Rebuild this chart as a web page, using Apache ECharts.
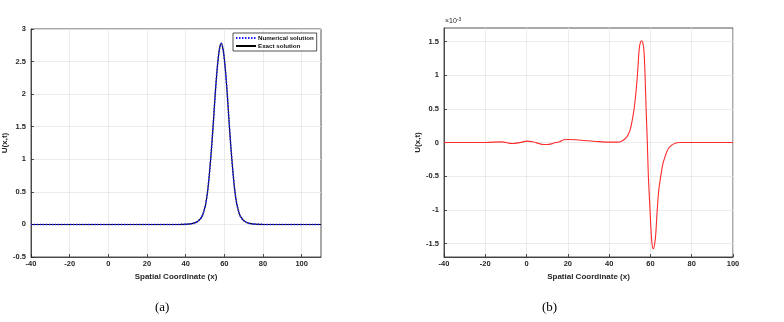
<!DOCTYPE html>
<html>
<head>
<meta charset="UTF-8">
<title>Soliton</title>
<script src="https://cdn.jsdelivr.net/npm/echarts@6/dist/echarts.min.js"></script>
<style>
  html, body { margin: 0; padding: 0; background: #fff; }
  #main { width: 784px; height: 322px; }
</style>
</head>
<body>
<div id="main"></div>
<script type="text/javascript">
// (a) solution profile
var xA = [-40, 0, 36.4, 41.4, 44.4, 46.4, 48.4, 49.4, 50.4, 51.4, 52.4, 53.4, 54.4, 55.4, 56.4, 57.4, 58.4, 59.4, 60.4, 61.4, 62.4, 63.4, 64.4, 65.4, 66.4, 67.4, 68.4, 70.4, 72.4, 75.4, 80.4, 110];
var numA = [0, 0, 0, 0.005, 0.02, 0.05, 0.12, 0.2, 0.32, 0.52, 0.82, 1.18, 1.6, 2.05, 2.42, 2.68, 2.78, 2.68, 2.42, 2.05, 1.6, 1.18, 0.82, 0.52, 0.32, 0.2, 0.12, 0.05, 0.02, 0.005, 0, 0];
var exA = numA.slice();

// (b) error, in units of 1e-3
var xB = [-40, -20, -12, -7, -3, 0, 3, 6, 8, 10, 12, 14, 16, 18, 20, 24, 28, 34, 40, 44, 46, 48.5, 50.1, 51, 52.1, 53, 53.7, 54.6, 55.2, 55.8, 56.4, 56.9, 57.4, 57.9, 58.5, 59, 59.8, 60.6, 61.4, 62.1, 62.6, 63.3, 64, 65, 66, 67.1, 68.5, 70.3, 72, 74, 100];
var errB = [0, 0, 0.01, -0.015, 0, 0.02, 0.01, -0.015, -0.03, -0.03, -0.02, 0, 0.01, 0.04, 0.045, 0.04, 0.03, 0.015, 0.005, 0.005, 0.02, 0.08, 0.18, 0.3, 0.5, 0.75, 1.0, 1.4, 1.49, 1.51, 1.47, 1.35, 1.0, 0.5, 0, -0.5, -1.0, -1.45, -1.58, -1.5, -1.35, -1.0, -0.72, -0.5, -0.32, -0.21, -0.1, -0.04, -0.01, 0, 0];

var xTicksA = [-40, -20, 0, 20, 40, 60, 80, 100];
var yTicksB = [-1.5, -1, -0.5, 0, 0.5, 1, 1.5];

function pairs(xs, ys) {
  var out = [];
  for (var i = 0; i < xs.length; i++) out.push([xs[i], ys[i]]);
  return out;
}

var ink = '#262626';
var gridCol = '#e6e6e6';
var fam = 'Liberation Sans, Arial, sans-serif';
var tickFont = { color: ink, fontSize: 7.5, fontWeight: 'bold', fontFamily: fam };
var nameFont = { color: ink, fontSize: 8, fontWeight: 'bold', fontFamily: fam };

function xAx(gi, min, max, interval, custom) {
  var ax = {
    type: 'value', gridIndex: gi, min: min, max: max, interval: interval,
    name: 'Spatial Coordinate (x)', nameLocation: 'middle', nameGap: 14, nameTextStyle: nameFont,
    axisLine: { show: true, onZero: false, lineStyle: { color: ink, width: 0.8 } },
    axisTick: { show: true, inside: true, length: 3, lineStyle: { color: ink, width: 0.8 } },
    axisLabel: Object.assign({ margin: 3 }, tickFont),
    splitLine: { show: true, lineStyle: { color: gridCol, width: 0.8 } }
  };
  if (custom) {
    ax.axisLabel.customValues = custom;
    ax.axisTick.customValues = custom;
  }
  return ax;
}

function yAx(gi, min, max, interval, custom) {
  var ax = {
    type: 'value', gridIndex: gi, min: min, max: max, interval: interval,
    name: 'U(x,t)', nameLocation: 'middle', nameGap: 18, nameTextStyle: nameFont,
    axisLine: { show: true, onZero: false, lineStyle: { color: ink, width: 0.8 } },
    axisTick: { show: true, inside: true, length: 3, lineStyle: { color: ink, width: 0.8 } },
    axisLabel: Object.assign({ margin: 5 }, tickFont),
    splitLine: { show: true, lineStyle: { color: gridCol, width: 0.8 } }
  };
  if (custom) {
    ax.axisLabel.customValues = custom;
    ax.axisTick.customValues = custom;
  }
  return ax;
}

var myChart = echarts.init(document.getElementById('main'));
myChart.setOption({
  animation: false,
  backgroundColor: '#fff',
  grid: [
    { left: 31, right: 463, top: 29, bottom: 65, show: true, borderColor: ink, borderWidth: 0.8, backgroundColor: '#fff' },
    { left: 444, right: 51, top: 28, bottom: 65, show: true, borderColor: ink, borderWidth: 0.8, backgroundColor: '#fff' }
  ],
  legend: {
    left: 233, top: 33, orient: 'vertical',
    data: ['Numerical solution', 'Exact solution'],
    itemWidth: 20, itemHeight: 6, itemGap: 2, padding: [2, 3, 2, 2],
    itemStyle: { opacity: 0 },
    borderColor: ink, borderWidth: 0.8, backgroundColor: '#fff',
    textStyle: { color: '#111', fontSize: 6.2, fontWeight: 'bold', fontFamily: fam, padding: [0, 0, 0, -3] }
  },
  xAxis: [
    xAx(0, -40, 110, 20, xTicksA),
    xAx(1, -40, 100, 20, null)
  ],
  yAxis: [
    yAx(0, -0.5, 3, 0.5, null),
    yAx(1, -1.7, 1.7, null, yTicksB)
  ],
  graphic: [
    { type: 'text', left: 445, top: 17, style: { text: '{a|\u00d710}{b|-3}', rich: {
      a: { fontSize: 7, fill: ink, fontFamily: fam },
      b: { fontSize: 5, fill: ink, fontFamily: fam, verticalAlign: 'top', padding: [0, 0, 4, 0] } } } },
    { type: 'text', left: 155, top: 301, style: { text: '(a)', fontSize: 13, fill: '#000', fontFamily: 'Liberation Serif, serif' } },
    { type: 'text', left: 542, top: 301, style: { text: '(b)', fontSize: 13, fill: '#000', fontFamily: 'Liberation Serif, serif' } }
  ],
  series: [
    {
      name: 'Numerical solution', type: 'line', xAxisIndex: 0, yAxisIndex: 0,
      data: pairs(xA, numA), smooth: 0.3, symbol: 'none', z: 4,
      lineStyle: { color: '#1f1fff', width: 1.6, type: [1.5, 1.5] },
      itemStyle: { color: '#1f1fff' }
    },
    {
      name: 'Exact solution', type: 'line', xAxisIndex: 0, yAxisIndex: 0,
      data: pairs(xA, exA), smooth: 0.3, symbol: 'none', z: 3,
      lineStyle: { color: '#000', width: 1.1 },
      itemStyle: { color: '#000' }
    },
    {
      name: 'Error', type: 'line', xAxisIndex: 1, yAxisIndex: 1,
      data: pairs(xB, errB), smooth: 0.3, symbol: 'none',
      lineStyle: { color: '#ff2a2a', width: 1.1 },
      itemStyle: { color: '#ff2a2a' }
    }
  ]
});
</script>
</body>
</html>
